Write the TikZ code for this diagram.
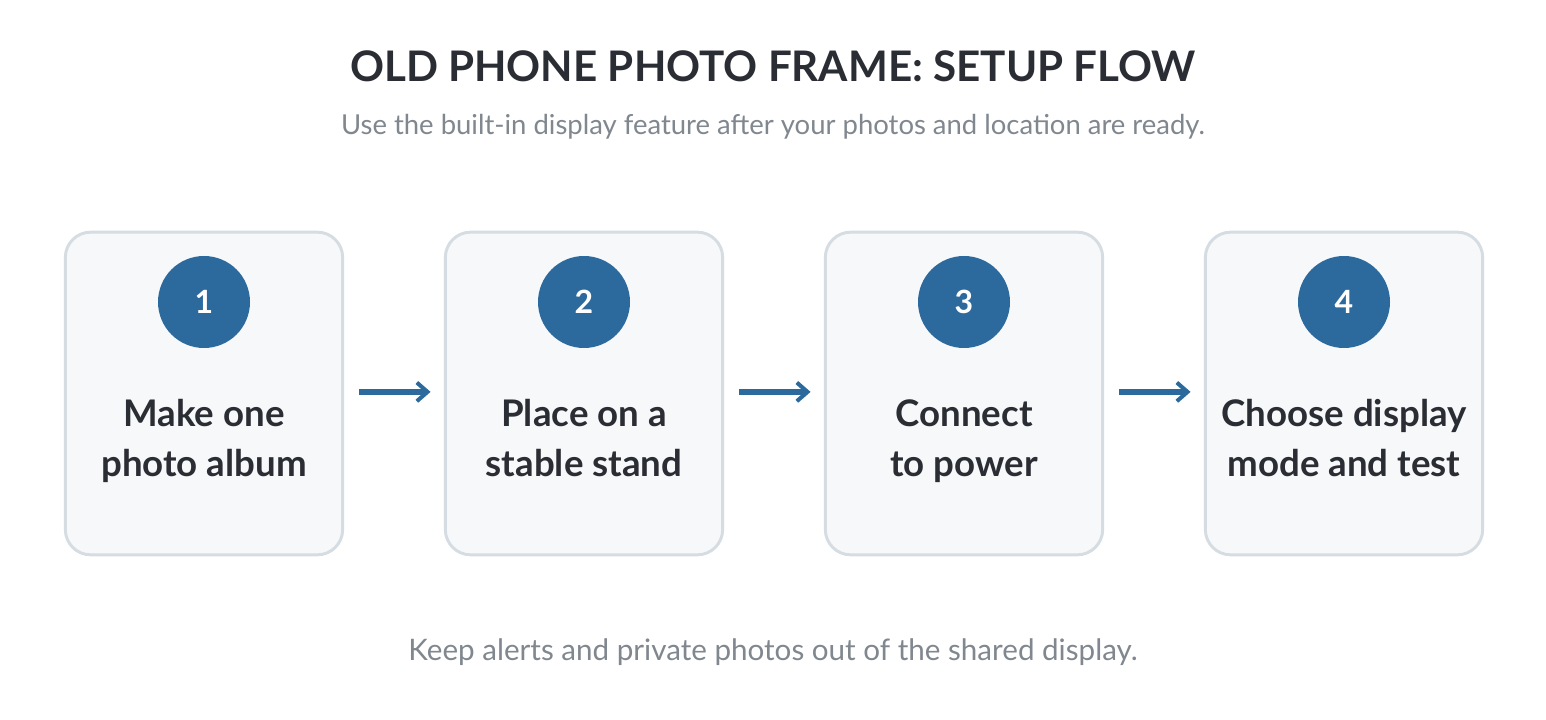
\documentclass[tikz,border=0pt]{standalone}
\usepackage{fontspec}
\setmainfont{Lato}
\usetikzlibrary{arrows.meta}
\definecolor{inkdark}{HTML}{2A2D33}
\definecolor{inkgray}{HTML}{80878F}
\definecolor{stepblue}{HTML}{2C6A9E}
\definecolor{boxline}{HTML}{D5DCE2}
\definecolor{boxfill}{HTML}{F7F8FA}
\tikzset{
	stepcard/.style={draw=boxline, fill=boxfill, line width=2.2pt, rounded corners=19pt, minimum width=208pt, minimum height=242pt},
	stepnum/.style={circle, fill=stepblue, text=white, minimum size=69pt, inner sep=0pt, font=\bfseries\fontsize{24}{28}\selectfont},
	steptext/.style={text=inkdark, align=center, anchor=base, font=\bfseries\fontsize{27.5}{37.5}\selectfont},
	flowarrow/.style={draw=stepblue, line width=4.2pt, -{Straight Barb[length=8pt, width=14pt, line width=3pt]}}
}

\begin{document}
\begin{tikzpicture}[x=0.75pt, y=-0.75pt]
		%%%%% START %%%%%
		\useasboundingbox[fill=white] (0, 0) rectangle (1546, 720);
		
		\node[text=inkdark, font=\bfseries\fontsize{31.6}{38}\selectfont] (title) at (773, 66) {OLD PHONE PHOTO FRAME: SETUP FLOW};
		\node[text=inkgray, font=\fontsize{20.6}{24}\selectfont] (subtitle) at (773, 127) {Use the built-in display feature after your photos and location are ready.};
		
		\node[stepcard] (card1) at (204, 393.5) {};
		\node[stepnum] (num1) at (204, 302) {1};
		\node[steptext] (text1) at (204, 476) {Make one\\photo album};
		
		\node[stepcard] (card2) at (584, 393.5) {};
		\node[stepnum] (num2) at (584, 302) {2};
		\node[steptext] (text2) at (584, 476) {Place on a\\stable stand};
		
		\node[stepcard] (card3) at (964, 393.5) {};
		\node[stepnum] (num3) at (964, 302) {3};
		\node[steptext] (text3) at (964, 476) {Connect\\to power};
		
		\node[stepcard] (card4) at (1344, 393.5) {};
		\node[stepnum] (num4) at (1344, 302) {4};
		\node[steptext] (text4) at (1344, 476) {Choose display\\mode and test};
		
		\draw[flowarrow] ([xshift=11pt, yshift=1.2pt]card1.east) -- ([xshift=-10pt, yshift=1.2pt]card2.west);
		\draw[flowarrow] ([xshift=11pt, yshift=1.2pt]card2.east) -- ([xshift=-10pt, yshift=1.2pt]card3.west);
		\draw[flowarrow] ([xshift=11pt, yshift=1.2pt]card3.east) -- ([xshift=-10pt, yshift=1.2pt]card4.west);
		
		\node[text=inkgray, font=\fontsize{22.2}{26}\selectfont] (footer) at (773, 652) {Keep alerts and private photos out of the shared display.};
		%%%%% END %%%%%
	\end{tikzpicture}
\end{document}
